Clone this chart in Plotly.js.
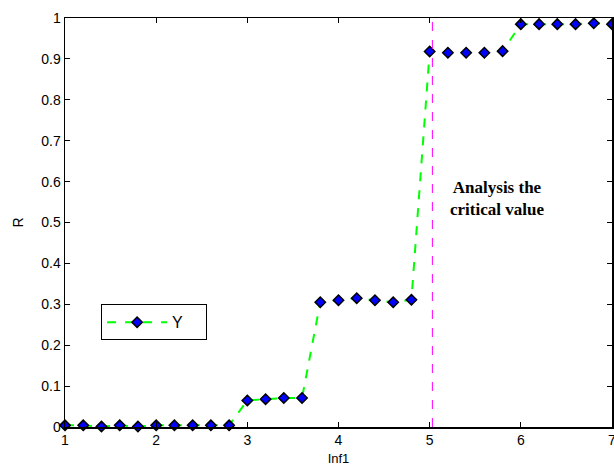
<!DOCTYPE html>
<html>
<head>
<meta charset="utf-8">
<script src="https://cdn.plot.ly/plotly-3.0.1.min.js"></script>
<style>html,body{margin:0;padding:0;background:#fff;}#chart{width:614px;height:467px;}</style>
</head>
<body>
<div id="chart"></div>
<script>
const inf1 = [1.0,1.2,1.4,1.6,1.8,2.0,2.2,2.4,2.6,2.8,3.0,3.2,3.4,3.6,3.8,4.0,4.2,4.4,4.6,4.8,5.0,5.2,5.4,5.6,5.8,6.0,6.2,6.4,6.6,6.8,7.0];
const R = [0.004,0.004,0.001,0.004,0.001,0.004,0.004,0.004,0.004,0.004,0.065,0.068,0.071,0.071,0.305,0.310,0.315,0.310,0.305,0.311,0.918,0.915,0.915,0.915,0.919,0.985,0.985,0.985,0.985,0.987,0.985];
const criticalX = 5.03;
const xTicks = [1,2,3,4,5,6,7];
const yTicks = [0,0.1,0.2,0.3,0.4,0.5,0.6,0.7,0.8,0.9,1];
const yTickText = ['0','0.1','0.2','0.3','0.4','0.5','0.6','0.7','0.8','0.9','1'];

const trace = {
  x: inf1, y: R, mode: 'lines+markers', name: 'Y    ', type: 'scatter',
  line: {color: '#00ff00', width: 2, dash: 'dash'},
  marker: {symbol: 'diamond', size: 8, color: '#0000ff', line: {color: '#000000', width: 1.5}},
  cliponaxis: false
};

const axisCommon = {
  showline: true, linecolor: '#000', linewidth: 1.5, mirror: 'ticks',
  ticks: 'inside', ticklen: 5, tickcolor: '#000', showgrid: false, zeroline: false,
  ticklabeloverflow: 'allow',
  tickfont: {family: 'Liberation Sans, Arial, sans-serif', size: 14, color: '#000'}
};

const layout = {
  width: 614, height: 467,
  margin: {l: 65, r: 2, t: 18, b: 40},
  paper_bgcolor: '#fff', plot_bgcolor: '#fff',
  showlegend: true,
  xaxis: Object.assign({}, axisCommon, {
    range: [1, 7], tickvals: xTicks, ticktext: xTicks.map(String),
    title: {text: 'Inf1', standoff: 6, font: {family: 'Liberation Sans, Arial, sans-serif', size: 13, color: '#000'}}
  }),
  yaxis: Object.assign({}, axisCommon, {
    range: [0, 1], tickvals: yTicks, ticktext: yTickText,
    title: {text: 'R', standoff: 14, font: {family: 'Liberation Sans, Arial, sans-serif', size: 14, color: '#000'}}
  }),
  legend: {
    x: 0.066, y: 0.30, xanchor: 'left', yanchor: 'top',
    bordercolor: '#000', borderwidth: 1, bgcolor: '#fff',
    font: {family: 'Liberation Sans, Arial, sans-serif', size: 16, color: '#000'},
    itemwidth: 60
  },
  shapes: [{
    type: 'line', xref: 'x', yref: 'paper', x0: criticalX, x1: criticalX, y0: 0, y1: 1,
    line: {color: '#ff00ff', width: 1, dash: 'dash'}
  }],
  annotations: [{
    xref: 'paper', yref: 'paper', x: (497-65)/547, y: (427-198)/409, xanchor: 'center', yanchor: 'middle',
    text: '<b>Analysis the<br>critical value</b>', showarrow: false, align: 'center',
    font: {family: 'Liberation Serif, Times New Roman, serif', size: 17, color: '#000'}
  }]
};

Plotly.newPlot('chart', [trace], layout, {displayModeBar: false, staticPlot: true});
</script>
</body>
</html>
